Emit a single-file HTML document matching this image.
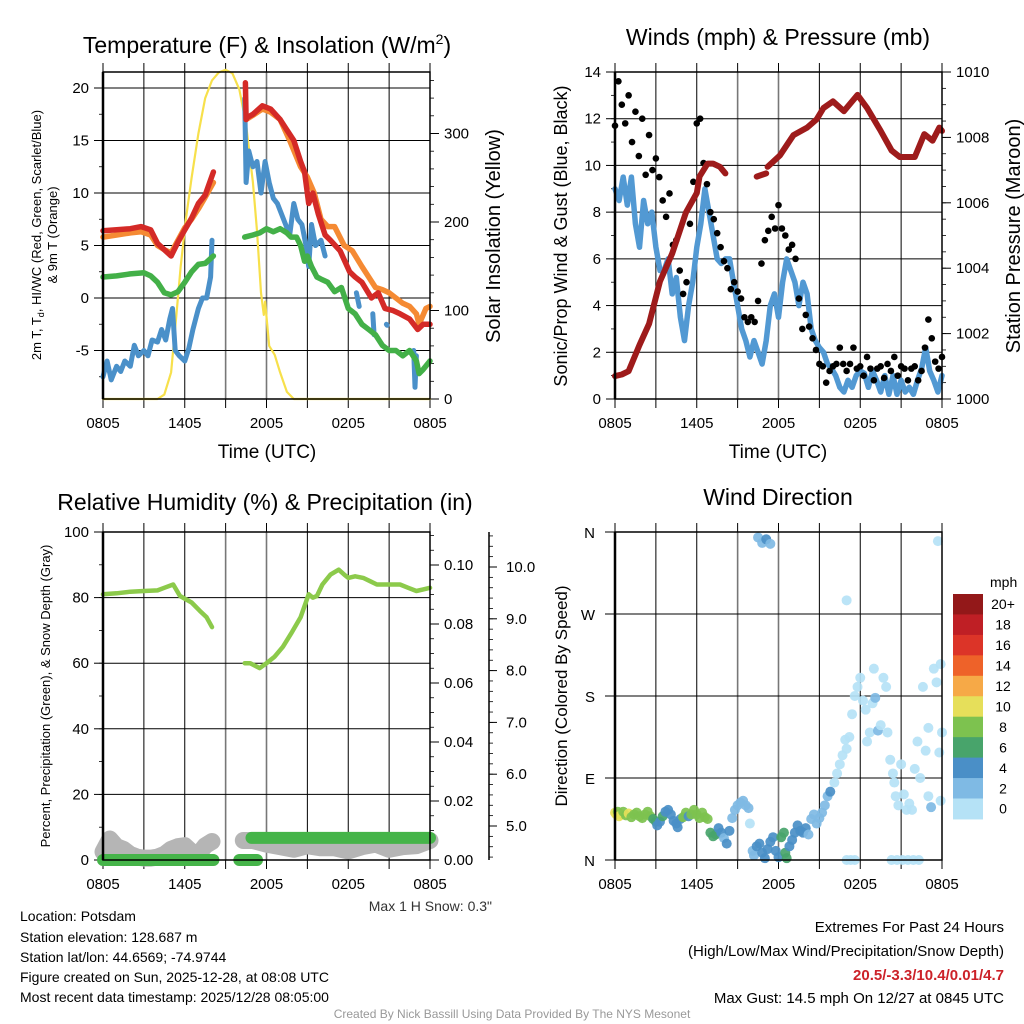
<!DOCTYPE html>
<html><head><meta charset="utf-8">
<style>
html,body{margin:0;padding:0;background:#fff;}
svg{display:block;font-family:"Liberation Sans",Arial,sans-serif;}
</style></head>
<body>
<svg id="fig" width="1024" height="1024" viewBox="0 0 1024 1024" xmlns="http://www.w3.org/2000/svg">
<rect width="1024" height="1024" fill="#fff"/>
<text x="267" y="53" font-size="23" text-anchor="middle">Temperature (F) &amp; Insolation (W/m<tspan font-size="14" dy="-9">2</tspan><tspan dy="9">)</tspan></text>
<text x="778" y="45" font-size="23" text-anchor="middle">Winds (mph) &amp; Pressure (mb)</text>
<text x="265" y="510" font-size="23" text-anchor="middle">Relative Humidity (%) &amp; Precipitation (in)</text>
<text x="778" y="505" font-size="23" text-anchor="middle">Wind Direction</text>
<text x="267" y="458" font-size="19" text-anchor="middle">Time (UTC)</text>
<text x="778" y="458" font-size="19" text-anchor="middle">Time (UTC)</text>
<text font-size="13" text-anchor="middle" transform="translate(41,235) rotate(-90)">2m T, T<tspan font-size="9" dy="3">d</tspan><tspan dy="-3">, HI/WC (Red, Green, Scarlet/Blue)</tspan></text>
<text font-size="13" text-anchor="middle" transform="translate(57,235) rotate(-90)">&amp; 9m T (Orange)</text>
<text font-size="20" text-anchor="middle" transform="translate(500,236) rotate(-90)">Solar Insolation (Yellow)</text>
<text font-size="18" text-anchor="middle" transform="translate(567,236) rotate(-90)">Sonic/Prop Wind &amp; Gust (Blue, Black)</text>
<text font-size="20" text-anchor="middle" transform="translate(1020,236) rotate(-90)">Station Pressure (Maroon)</text>
<text font-size="13" text-anchor="middle" transform="translate(50,696) rotate(-90)">Percent, Precipitation (Green), &amp; Snow Depth (Gray)</text>
<text font-size="17" text-anchor="middle" transform="translate(567,696) rotate(-90)">Direction (Colored By Speed)</text>
<text x="492" y="911" font-size="14" text-anchor="end" fill="#333">Max 1 H Snow: 0.3"</text>
<g font-size="14">
<text x="20" y="921">Location: Potsdam</text>
<text x="20" y="942">Station elevation: 128.687 m</text>
<text x="20" y="962">Station lat/lon: 44.6569; -74.9744</text>
<text x="20" y="982">Figure created on Sun, 2025-12-28, at 08:08 UTC</text>
<text x="20" y="1002">Most recent data timestamp: 2025/12/28 08:05:00</text>
</g>
<g font-size="15" text-anchor="end">
<text x="1004" y="932">Extremes For Past 24 Hours</text>
<text x="1004" y="956">(High/Low/Max Wind/Precipitation/Snow Depth)</text>
<text x="1004" y="980" fill="#cc2229" font-weight="bold">20.5/-3.3/10.4/0.01/4.7</text>
<text x="1004" y="1003">Max Gust: 14.5 mph On 12/27 at 0845 UTC</text>
</g>
<text x="512" y="1018" font-size="12" fill="#999" text-anchor="middle">Created By Nick Bassill Using Data Provided By The NYS Mesonet</text>
<g id="plots"></g>
</svg>
<script>
const timeTickLabels=["0805","1405","2005","0205","0805"];
const tempTicks=[-5,0,5,10,15,20];
const solarTicks=[0,100,200,300];
const windTicks=[0,2,4,6,8,10,12,14];
const presTicks=[1000,1002,1004,1006,1008,1010];
const rhTicks=[0,20,40,60,80,100];
const precipTicks=[0,0.02,0.04,0.06,0.08,0.10];
const snowTicks=[5,6,7,8,9,10];
const dirLabels=["N","E","S","W","N"];
const speedBinLabels=["0","2","4","6","8","10","12","14","16","18","20+"];
const speedBinColors=["#b5e2f6","#7fbae4","#4a8fc7","#48a46b","#7dc24f","#e6df5a","#f6a947","#ee6229","#dc3428","#bf1f25","#931819"];

const redH=[0,1,2,2.8,3.5,4,4.5,5,5.5,6,6.5,7,7.5,8.1,null,10.45,10.5,10.6,11,11.7,12.3,13,13.5,14,14.5,14.8,15.1,15.4,15.8,16.3,16.7,17.4,18.1,18.5,19,19.7,20.2,20.7,21.3,21.8,22.5,23.1,23.5,24];
const redV=[6.4,6.5,6.6,6.8,6.5,5.2,4.6,4.0,5.3,6.5,7.6,9.0,9.8,12,null,20.5,17,17.2,17.5,18.3,18,17,16,15,13,12,9,10,8,6,5.5,4.5,2.5,2,1.5,0,0.5,-1,-1.2,-1.5,-2,-3,-2.5,-2.5];
const orgH=[0,1,2,2.8,3.5,4,4.5,5,5.5,6,6.5,7,7.5,8.1,null,10.5,11,11.7,12.3,13,13.7,14.5,15,15.5,16,16.5,17,17.7,18.3,19,19.5,20,20.5,21,21.5,22,22.5,23,23.2,23.7,24];
const orgV=[5.8,6.0,6.2,6.3,6.0,5.0,4.6,4.3,5.5,6.7,7.5,8.5,9.6,11,null,17,17.4,18,17.7,17,15,12.5,11.5,10,7.5,6.8,6.8,5,4.5,3,2,1,0.8,0.5,0,-0.5,-0.8,-1.5,-2.5,-1,-0.8];
const grnH=[0,1,2,3,3.5,4,4.5,5,5.5,6,6.5,7,7.5,8.1,null,10.4,11,11.5,12,12.5,13,13.5,13.8,14.2,14.5,14.8,15,15.3,15.7,16,16.5,17,17.5,18,18.5,19,19.5,20,20.5,21,21.5,22,22.5,23,23.2,23.5,24];
const grnV=[2,2.1,2.3,2.4,2.1,1.5,0.5,0.3,0.6,1.5,2.5,3.2,3.3,4,null,5.8,6.0,6.2,6.6,6.3,6.6,6.2,5.8,5.8,5.0,3.5,4,3,2,1.8,1.5,0.6,1,-1,-1.5,-2.5,-3,-3.5,-4.5,-5,-5,-5.5,-5,-6,-7.2,-6.8,-6];
const bluH=[0,0.3,0.6,1,1.3,1.6,2,2.3,2.6,3,3.3,3.6,4,4.3,4.6,4.9,5.1,5.3,5.6,6,6.3,6.6,7,7.3,7.6,7.9,8.0,null,10.4,10.5,10.7,11,11.3,11.6,11.9,12.2,12.5,12.8,13.1,13.4,13.7,14,14.3,14.6,14.9,15.1,15.3,15.6,16,16.3,null,18.6,18.8,null,19.8,19.9,null,20.8,20.85,null,22.8,22.9,23.0];
const bluV=[-7.5,-6,-7.8,-6.5,-7,-6,-6.5,-4.5,-5.5,-5,-5.5,-4,-4.2,-3,-4,-2,-1,-5,-5.5,-6,-4.8,-3,-1,0,0,2,5.5,null,19,11,14,12.5,13,10,13,11,9.5,9,8,7,6,9,7.5,7,5,3,7,5,5.5,4,null,0.5,-0.8,null,-1.5,-3.5,null,-2.5,-2.6,null,-5,-8.5,-5.5];
const solH=[0,4.0,4.5,5.0,5.3,5.7,6.1,6.5,7.0,7.5,8.0,8.5,9.0,9.5,10,10.5,11,11.3,11.6,11.8,11.9,12.2,12.6,13,13.5,14,24];
const solV=[0,0,5,30,80,150,205,250,300,340,360,369,372,368,350,310,245,190,120,95,110,60,50,30,8,0,0];

const presH=[0,0.5,1,1.8,2.5,3.3,4.2,5.2,6,6.2,6.8,7.2,7.7,8.1,null,10.4,11.1,null,11.2,12.1,13.1,14.1,14.8,15.3,16.0,16.8,17.8,18.5,19.5,20.3,20.9,22.0,22.7,23.3,23.8,24];
const presV=[1000.7,1000.75,1000.85,1001.65,1002.3,1003.6,1004.45,1005.7,1006.3,1006.8,1007.2,1007.2,1007.1,1006.9,null,1006.8,1006.9,null,1007.1,1007.45,1008.07,1008.3,1008.55,1008.9,1009.1,1008.8,1009.3,1008.9,1008.2,1007.6,1007.4,1007.4,1008.1,1007.9,1008.3,1008.2];
const windH=[0,0.3,0.6,0.9,1.2,1.5,1.8,2.1,2.4,2.7,3.0,3.3,3.6,3.9,4.2,4.5,4.8,5.1,5.4,5.7,6.0,6.3,6.6,6.9,7.2,7.5,7.8,8.1,8.4,8.7,9.0,9.3,9.6,9.9,10.2,10.5,10.8,11.1,11.4,11.7,12.0,12.3,12.6,12.9,13.2,13.5,13.8,14.1,14.4,14.7,15.0,15.3,15.6,15.9,16.2,16.5,16.8,17.1,17.4,17.7,18.0,18.3,18.6,18.9,19.2,19.5,19.8,20.1,20.4,20.7,21.0,21.3,21.6,21.9,22.2,22.5,22.8,23.1,23.4,23.7,24];
const windV=[9,8.5,9.5,8.3,9.5,7.5,6.5,8.5,7.5,8,6.5,5.5,5.5,6,4.5,5.2,3.5,2.5,4,5,6.5,7.5,9,8,7,6,5.8,6,6,5,4,3,2.5,1.8,2.5,2,1.5,2.5,4,4.5,3.5,5,6,5.5,5,4,5,4.5,3,2.5,2.2,2,1.5,1.3,1,0.5,0.3,0.8,0.5,1,1.2,1.1,0.5,1.2,0.8,0.3,1,0.2,1,0.2,0.8,0.3,0.5,0.2,0.8,1.3,2.2,1.2,0.8,0.3,1];
const gustH=[0,0.25,0.5,0.75,1,1.25,1.5,1.75,2,2.25,2.5,2.75,3,3.25,3.5,3.75,4,4.25,4.5,4.75,5,5.25,5.5,5.75,6,6.25,6.5,6.75,7,7.25,7.5,7.75,8,8.25,8.5,8.75,9,9.25,9.5,9.75,10,10.25,10.5,10.75,11,11.25,11.5,11.75,12,12.25,12.5,12.75,13,13.25,13.5,13.75,14,14.25,14.5,14.75,15,15.25,15.5,15.75,16,16.25,16.5,16.75,17,17.25,17.5,17.75,18,18.25,18.5,18.75,19,19.25,19.5,19.75,20,20.25,20.5,20.75,21,21.25,21.5,21.75,22,22.25,22.5,22.75,23,23.25,23.5,23.75,24];
const gustV=[11.7,13.6,12.6,11.8,13,11,12.3,10.4,12,9.6,11.3,9.8,10.3,9.5,8.5,7.8,8.8,6.6,6.8,5.5,4.5,5,7.5,9.3,11.8,12,10.1,9.2,8,7.7,7.1,6.5,5.9,5.6,4.7,5,4.6,4.3,3.5,3.3,3.5,3.3,4.2,5.8,6.8,7.2,7.8,7.3,8.3,7.3,7,6.4,6.6,6,4.3,3,3.6,3.1,2.6,2.1,1.5,1.4,0.7,1.2,1.4,1.5,2.2,1.5,1.2,1.5,2.2,1.3,1.4,1.0,1.8,1.3,0.8,1.3,1.4,0.9,1.5,1.2,1.8,1.0,1.4,1.3,0.8,1.3,1.4,0.8,1.2,2.2,3.4,2.6,1.6,1.3,1.8];

const rhH=[0,1,2,3,4,4.5,5.15,5.65,6.5,7.1,7.6,8.0,null,10.4,10.8,11.5,12,12.6,13.2,13.8,14.5,15.1,15.4,15.7,16.1,16.7,17.3,17.7,18.0,18.5,19.1,19.6,20.1,21,21.8,22.4,23,23.5,24];
const rhV=[81,81.3,81.8,82,82.2,83,84,80.5,78.5,76,74,71,null,60,60,58.5,60,62,65,69,74,81,80,80.5,84,87,88.5,87,86,86.5,86,85,84,84,84,83,82,82.5,83];
const precipH=[0,8.1,null,10.0,11.3,null,10.9,24];
const precipV=[0,0,null,0,0,null,0.0075,0.0075];
const snowH=[0,0.5,1,1.5,2,2.5,3,3.5,4,4.5,5,5.5,6,6.5,7,7.5,8,null,10.3,11,12,13,14,15,16,17,18,19,20,21,22,23,24];
const snowV=[4.5,4.75,4.6,4.55,4.45,4.4,4.38,4.38,4.4,4.45,4.55,4.6,4.62,4.5,4.45,4.62,4.7,null,4.72,4.72,4.65,4.6,4.55,4.62,4.58,4.58,4.52,4.6,4.65,4.55,4.6,4.62,4.72];

const dirH=[0,0.1,0.2,0.3,0.5,0.6,0.8,1.0,1.2,1.4,1.6,1.8,2.0,2.2,2.4,2.6,2.8,3.0,3.1,3.3,3.5,3.7,3.9,4.1,4.3,4.5,4.6,4.8,5.0,5.2,5.4,5.6,5.8,6.0,6.2,6.4,6.6,6.8,7.0,7.2,7.4,7.6,7.8,8.0,8.2,8.4,8.6,8.8,9.0,9.2,9.4,9.6,9.8,9.9,10.1,10.2,10.4,10.6,10.8,11.0,11.2,11.4,11.6,11.8,12.0,12.2,12.4,12.5,12.6,12.8,13.0,13.2,13.4,13.6,13.8,14.0,14.2,14.4,14.6,14.8,15.0,15.2,15.4,15.6,15.8,10.5,10.8,11.1,11.4,16.1,16.3,16.5,16.7,16.9,17.0,17.2,17.4,17.6,17.8,17.0,18.0,18.2,18.4,18.5,18.7,18.9,19.1,19.0,19.3,19.5,19.7,19.9,20.0,20.2,20.4,20.5,20.6,20.8,21.0,21.2,21.4,21.6,21.8,22.0,22.2,22.4,22.6,22.8,23.0,23.2,23.4,23.6,23.8,24.0,23.9,23.0,23.7,23.9,17.0,17.3,17.6,20.3,20.7,21.1,21.5,21.9,22.3];
const dirV=[52,50,53,48,50,53,49,51,47,50,52,48,46,50,53,48,45,42,38,42,48,53,55,50,43,40,36,45,47,52,48,50,55,50,46,52,47,45,30,26,28,35,30,24,18,32,46,55,60,63,65,60,57,40,10,5,15,18,8,2,12,20,25,10,3,25,30,8,2,15,22,30,38,32,30,35,28,45,50,40,46,52,60,70,75,354,348,352,347,85,95,105,115,132,122,135,160,180,190,285,200,175,165,130,140,172,178,210,142,148,200,190,140,110,95,85,70,60,105,72,55,62,55,100,130,90,190,120,70,58,210,195,118,140,215,145,350,65,0,0,0,0,0,0,0,0,0];
const dirS=[10,10,9,10,10,9,9,10,8,8,8,8,8,8,8,8,7,6,5,4,6,4,4,4,4,4,4,4,8,8,4,8,8,8,8,9,8,8,6,6,6,4,4,3,4,4,3,3,3,3,3,3,3,1,3,3,4,4,4,4,4,4,4,4,4,6,6,6,6,4,4,4,4,4,4,4,3,3,3,3,3,3,3,3,4,3,3,4,3,1,1,1,1,1,1,1,1,1,1,1,1,1,1,1,1,1,3,1,3,1,1,1,1,1,1,1,1,1,1,1,1,1,1,1,1,1,1,1,1,3,1,1,1,1,1,1,1,1,1,1,1,1,1,1,1,1,1];

const NS="http://www.w3.org/2000/svg";
const root=document.getElementById('plots');
function mk(tag,attrs,parent){const e=document.createElementNS(NS,tag);for(const k in attrs)e.setAttribute(k,attrs[k]);(parent||root).appendChild(e);return e;}
function lin(d0,d1,r0,r1){return v=>r0+(v-d0)*(r1-r0)/(d1-d0);}
function pathFrom(hs,vs,xf,yf){let d="",pen=false;for(let i=0;i<hs.length;i++){if(hs[i]===null||vs[i]===null){pen=false;continue;}d+=(pen?"L":"M")+xf(hs[i]).toFixed(1)+","+yf(vs[i]).toFixed(1);pen=true;}return d;}
function frame(g,L,T,R,B,xTicks){
  const xs=lin(0,24,L,R);
  for(let h=0;h<=24;h+=3){const x=xs(h);
    const gl=mk('line',{x1:x,y1:T,x2:x,y2:B,stroke:(h===9||h===12)?'#777':'#000','stroke-width':(h===9||h===12)?1.6:1},g);
    
    mk('line',{x1:x,y1:T-9,x2:x,y2:T,stroke:'#000','stroke-width':1},g);
    mk('line',{x1:x,y1:B,x2:x,y2:B+9,stroke:'#000','stroke-width':1},g);
  }
  if(xTicks){for(let i=0;i<timeTickLabels.length;i++){const t=mk('text',{x:xs(i*6),y:B+29,'font-size':15,'text-anchor':'middle'},g);t.textContent=timeTickLabels[i];
    }}
}
function hgrid(g,L,R,y){const l=mk('line',{x1:L,y1:y,x2:R,y2:y,stroke:'#000','stroke-width':1},g);}
function border(g,L,T,R,B){mk('rect',{x:L,y:T,width:R-L,height:B-T,fill:'none',stroke:'#000','stroke-width':1.5},g);mk('line',{x1:L,y1:T,x2:L,y2:B,stroke:'#000','stroke-width':2.5},g);}
function leftTicks(g,L,yf,ticks,fmt,minorStep,lo,hi){
  for(const v of ticks){const y=yf(v);mk('line',{x1:L-9,y1:y,x2:L,y2:y,stroke:'#000'},g);
    const t=mk('text',{x:L-14,y:y+5,'font-size':15,'text-anchor':'end'},g);t.textContent=fmt(v);
    }
  if(minorStep){for(let v=lo;v<=hi+1e-9;v+=minorStep){const y=yf(v);mk('line',{x1:L-4,y1:y,x2:L,y2:y,stroke:'#000','stroke-width':0.8},g);}}
}
function rightTicks(g,R,yf,ticks,fmt,minorStep,lo,hi,lx){
  for(const v of ticks){const y=yf(v);mk('line',{x1:R,y1:y,x2:R+9,y2:y,stroke:'#000'},g);
    const t=mk('text',{x:lx||R+14,y:y+5,'font-size':15},g);t.textContent=fmt(v);
    }
  if(minorStep){for(let v=lo;v<=hi+1e-9;v+=minorStep){const y=yf(v);mk('line',{x1:R,y1:y,x2:R+4,y2:y,stroke:'#000','stroke-width':0.8},g);}}
}
function series(g,hs,vs,xf,yf,color,w,name){const p=mk('path',{d:pathFrom(hs,vs,xf,yf),fill:'none',stroke:color,'stroke-width':w,'stroke-linecap':'round','stroke-linejoin':'round'},g);
  return p;}

(function(){
  const L=103,R=430,T=72,B=399;
  const g=mk('g',{});
  const xf=lin(0,24,L,R), yf=lin(0,10,298,193), ys=lin(0,100,399,310.5);
  frame(g,L,T,R,B,true);
  for(const v of tempTicks)hgrid(g,L,R,yf(v));
  leftTicks(g,L,yf,tempTicks,v=>String(v),2.5,-7.5,20);
  rightTicks(g,R,ys,solarTicks,v=>String(v),20,0,360);
  series(g,solH,solV,xf,ys,'#f7e04b',2.2,'solar-insolation-line');
  series(g,bluH,bluV,xf,yf,'#4a90c9',5,'heat-index-windchill-line');
  series(g,orgH,orgV,xf,yf,'#f58a33',5.5,'9m-temperature-line');
  series(g,redH,redV,xf,yf,'#d42a27',5.5,'2m-temperature-line');
  series(g,grnH,grnV,xf,yf,'#43b048',5.5,'dewpoint-line');
  border(g,L,T,R,B);
})();

(function(){
  const L=615,R=942,T=72,B=399;
  const g=mk('g',{});
  const xf=lin(0,24,L,R), yf=lin(0,14,B,T), yp=lin(1000,1010,B,T);
  frame(g,L,T,R,B,true);
  for(const v of windTicks)hgrid(g,L,R,yf(v));
  leftTicks(g,L,yf,windTicks,v=>String(v),1,0,14);
  rightTicks(g,R,yp,presTicks,v=>String(v),0.5,1000,1010);
  series(g,windH,windV,xf,yf,'#5299d3',5.5,'sonic-wind-line');
  for(let i=0;i<gustH.length;i++){const c=mk('circle',{cx:xf(gustH[i]),cy:yf(gustV[i]),r:3.3,fill:'#000'},g);
    }
  series(g,presH,presV,xf,yp,'#9e1b1b',6,'station-pressure-line');
  border(g,L,T,R,B);
})();

(function(){
  const L=103,R=430,T=532,B=860;
  const g=mk('g',{});
  const xf=lin(0,24,L,R), yf=lin(0,100,B,T), yp=lin(0,0.1,B,565), ysn=lin(5,10,826,567);
  frame(g,L,T,R,B,true);
  for(const v of rhTicks)hgrid(g,L,R,yf(v));
  leftTicks(g,L,yf,rhTicks,v=>String(v),10,0,100);
  rightTicks(g,R,yp,precipTicks,v=>v.toFixed(2),0.005,0,0.11);
  const ax=489;
  mk('line',{x1:ax,y1:T,x2:ax,y2:B,stroke:'#000','stroke-width':1.5},g);
  for(const v of snowTicks){const y=ysn(v);mk('line',{x1:ax,y1:y,x2:ax+8,y2:y,stroke:'#000'},g);
    const t=mk('text',{x:ax+17,y:y+5,'font-size':15},g);t.textContent=v.toFixed(1);
    }
  for(let v=4.4;v<=10.6;v+=0.2){const y=ysn(v);if(y>=T&&y<=B)mk('line',{x1:ax,y1:y,x2:ax+4,y2:y,stroke:'#000','stroke-width':0.8},g);}
  series(g,snowH,snowV,xf,ysn,'#b5b5b5',17,'snow-depth-line');
  series(g,precipH,precipV,xf,yp,'#45b449',12,'precipitation-line');
  series(g,rhH,rhV,xf,yf,'#8cca4b',4.5,'relative-humidity-line');
  border(g,L,T,R,B);
})();

(function(){
  const L=615,R=942,T=532,B=860;
  const g=mk('g',{});
  const xf=lin(0,24,L,R), yf=lin(0,360,B,T);
  frame(g,L,T,R,B,true);
  for(let i=0;i<dirLabels.length;i++){const y=yf(i*90);hgrid(g,L-10,R,y);
    const t=mk('text',{x:L-20,y:y+6,'font-size':15,'text-anchor':'end'},g);t.textContent=dirLabels[i];
    }
  function bin(s){return speedBinColors[Math.min(Math.floor(s/2),10)];}
  for(let i=0;i<dirH.length;i++){const c=mk('circle',{cx:xf(dirH[i]),cy:yf(dirV[i]),r:5,fill:bin(dirS[i]),'fill-opacity':0.92},g);
    }
  border(g,L,T,R,B);
  const cb=mk('g',{});
  const top=594,bh=20.45;
  const mt=mk('text',{x:990,y:587,'font-size':14},cb);mt.textContent='mph';
  for(let i=0;i<speedBinLabels.length;i++){const idx=speedBinLabels.length-1-i;const y=top+i*bh;
    const r=mk('rect',{x:953,y:y,width:30,height:bh+0.5,fill:speedBinColors[idx]},cb);
    
    const t=mk('text',{x:1003,y:y+bh/2+5,'font-size':14,'text-anchor':'middle'},cb);t.textContent=speedBinLabels[idx];
    }
})();
</script>
</body></html>
